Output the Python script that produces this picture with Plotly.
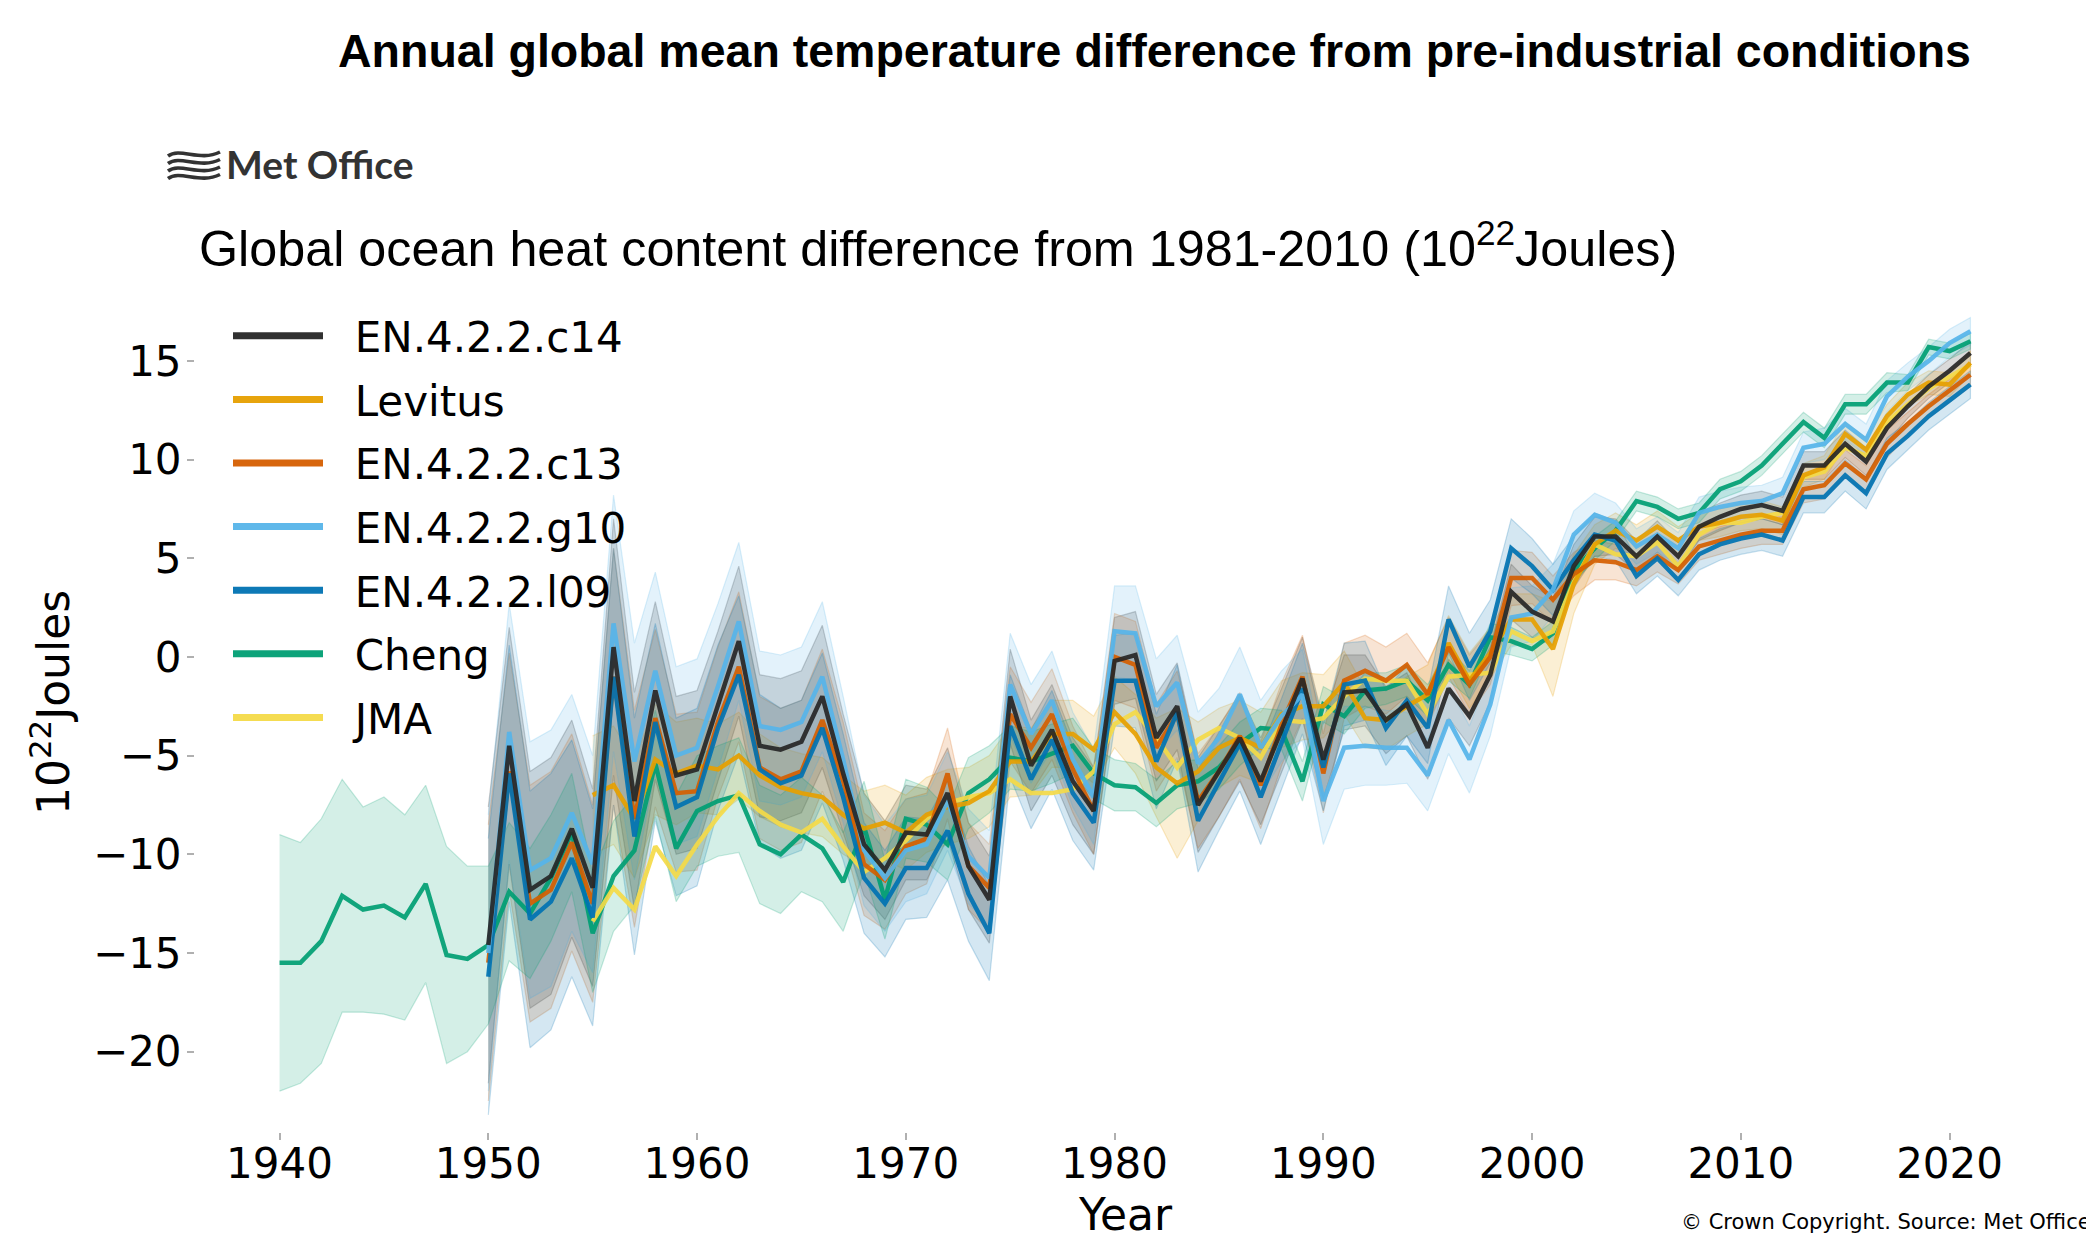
import plotly.graph_objects as go

# ---------------- data (10^22 J, difference from 1981-2010) ----------------
years_cheng = list(range(1940, 2022))
years_en = list(range(1950, 2022))
years_lev = list(range(1955, 2022))
years_jma = list(range(1955, 2022))

c14 = [-14.6, -4.5, -11.8, -11.1, -8.7, -11.7, 0.5, -7.3, -1.7, -6.0,
       -5.7, -2.5, 0.8, -4.5, -4.7, -4.3, -2.0, -5.9, -9.5, -10.8,
       -8.9, -9.0, -6.9, -10.6, -12.3, -2.0, -5.5, -3.7, -6.3, -7.8,
       -0.2, 0.1, -4.1, -2.5, -7.5, -5.8, -4.1, -6.3, -3.7, -1.1,
       -5.2, -1.8, -1.7, -3.2, -2.4, -4.6, -1.6, -3.0, -0.9, 3.3,
       2.3, 1.8, 4.6, 6.1, 6.1, 5.1, 6.1, 5.1, 6.6, 7.1,
       7.5, 7.7, 7.4, 9.7, 9.7, 10.8, 9.9, 11.6, 12.7, 13.7, 14.5, 15.4]

c13 = [-15.5, -5.8, -12.5, -11.8, -9.4, -12.5, -1.0, -8.2, -3.1, -6.9,
       -6.8, -3.3, -0.5, -5.6, -6.2, -5.8, -3.2, -6.3, -10.5, -11.3,
       -9.6, -9.2, -5.9, -10.6, -11.7, -2.9, -4.6, -2.9, -5.7, -7.8,
       0.0, -0.4, -4.6, -2.9, -7.3, -5.8, -4.0, -6.5, -3.4, -1.0,
       -5.9, -1.2, -0.7, -1.2, -0.4, -1.9, 0.5, -1.4, 0.0, 4.0,
       4.0, 2.9, 4.2, 4.9, 4.8, 4.4, 5.1, 4.4, 5.6, 5.9,
       6.2, 6.4, 6.4, 8.5, 8.7, 9.8, 9.0, 10.8, 11.8, 12.7, 13.5, 14.3]

g10 = [-15.0, -3.8, -10.8, -10.2, -7.9, -10.5, 1.7, -5.3, -0.7, -5.0,
       -4.6, -1.5, 1.8, -3.5, -3.7, -3.3, -1.0, -5.2, -9.8, -11.2,
       -9.8, -9.5, -7.3, -10.1, -11.2, -1.4, -3.9, -2.2, -5.2, -7.1,
       1.3, 1.2, -2.5, -1.3, -5.4, -4.1, -1.9, -4.6, -3.0, -1.9,
       -7.3, -4.6, -4.5, -4.6, -4.6, -6.0, -3.2, -5.2, -2.4, 2.0,
       2.2, 3.4, 6.2, 7.2, 6.8, 5.6, 6.2, 5.5, 7.3, 7.6,
       7.8, 7.9, 8.3, 10.6, 10.8, 11.8, 11.0, 13.2, 14.2, 15.0, 15.9, 16.5]

l09 = [-16.2, -5.9, -13.3, -12.4, -10.2, -13.2, -1.0, -9.1, -3.3, -7.6,
       -7.1, -3.6, -0.9, -5.7, -6.4, -6.0, -3.6, -7.1, -11.2, -12.5,
       -10.7, -10.7, -8.8, -12.0, -14.0, -3.5, -6.2, -4.2, -6.9, -8.4,
       -1.2, -1.2, -5.3, -2.8, -8.3, -6.3, -4.4, -7.1, -4.4, -1.6,
       -5.6, -1.4, -1.2, -3.6, -2.2, -3.6, 1.9, -0.5, 1.3, 5.5,
       4.6, 3.4, 4.9, 6.2, 5.9, 4.1, 5.0, 3.9, 5.2, 5.7,
       6.0, 6.2, 5.9, 8.1, 8.1, 9.2, 8.3, 10.3, 11.2, 12.2, 13.0, 13.8]

levitus = [-7.0, -6.5, -8.2, -5.2, -5.9,
           -5.5, -5.7, -5.0, -6.0, -6.6, -6.9, -7.1, -8.0, -8.7, -8.4,
           -8.9, -8.0, -7.6, -7.4, -6.8, -5.3, -5.3, -3.9, -3.9, -4.7,
           -2.8, -3.9, -5.6, -6.4, -5.8, -4.6, -4.1, -4.6, -2.9, -2.5,
           -2.5, -1.3, -3.1, -3.2, -2.5, -1.9, 0.7, -1.2, 0.2, 1.9,
           1.9, 0.4, 3.7, 5.7, 6.4, 5.9, 6.6, 5.9, 6.6, 6.8,
           7.1, 7.2, 6.9, 9.2, 9.6, 11.3, 10.5, 12.2, 13.3, 13.9, 13.8, 14.9]

cheng = [-15.5, -15.5, -14.4, -12.1, -12.8, -12.6, -13.2, -11.5, -15.1, -15.3,
         -14.6, -11.9, -13.0, -11.2, -8.9, -14.0, -11.1, -9.8, -5.4, -9.7,
         -7.8, -7.3, -7.0, -9.5, -10.0, -9.0, -9.7, -11.4, -8.6, -12.3,
         -8.2, -8.5, -9.5, -6.9, -6.2, -5.1, -5.3, -4.9, -4.5, -5.9,
         -6.5, -6.6, -7.4, -6.5, -6.3, -5.6, -4.4, -3.6, -3.7, -6.3,
         -2.4, -3.0, -1.7, -1.6, -1.2, -2.2, -0.4, -1.4, 1.0, 0.8,
         0.4, 1.2, 4.4, 5.5, 6.4, 7.9, 7.6, 7.0, 7.3, 8.5,
         8.9, 9.7, 10.8, 11.9, 11.1, 12.8, 12.8, 13.9, 13.9, 15.7, 15.5, 16.0]

jma = [-13.4, -11.7, -12.8, -9.6, -11.1,
       -9.5, -8.1, -6.9, -7.8, -8.5, -8.9, -8.2, -9.6, -10.9, -10.2,
       -9.3, -8.2, -7.4, -7.1, -6.9, -6.2, -6.9, -6.9, -6.7, -5.8,
       -3.4, -2.8, -4.1, -5.6, -4.2, -3.6, -4.1, -5.1, -3.2, -3.3,
       -3.1, -2.0, -1.1, -1.2, -1.2, -2.9, -1.0, -0.9, -0.8, 1.3,
       0.8, 1.3, 3.8, 5.7, 5.2, 5.1, 5.8, 4.6, 6.2, 6.8,
       6.8, 7.1, 7.3, 9.1, 9.4, 10.6, 10.2, 11.9, 12.8, 13.6, 14.2, 14.8]

# half-widths of the uncertainty bands
err_c14 = [7.0, 6.0, 6.0, 6.0, 5.5, 5.0, 6.5, 5.5, 4.5, 4.0,
           4.0, 3.8, 3.8, 3.6, 3.6, 3.6, 3.6, 3.0, 2.6, 2.5,
           2.4, 2.3, 2.3, 2.2, 2.2, 2.4, 2.3, 2.3, 2.2, 2.2,
           2.2, 2.2, 2.2, 2.2, 2.4, 2.3, 2.2, 2.2, 2.1, 2.1,
           2.0, 1.9, 1.8, 1.7, 1.6, 1.6, 1.5, 1.5, 1.4, 1.4,
           1.3, 1.2, 1.1, 1.0, 0.9, 0.8, 0.8, 0.7, 0.7, 0.7,
           0.7, 0.7, 0.7, 0.7, 0.7, 0.7, 0.7, 0.7, 0.6, 0.6, 0.6, 0.6]
err_g = [7.0, 6.5, 6.5, 6.5, 6.0, 5.5, 6.5, 6.0, 5.0, 4.5,
         4.5, 4.2, 4.0, 3.8, 3.8, 3.8, 3.8, 3.2, 2.8, 2.7,
         2.6, 2.5, 2.5, 2.4, 2.4, 2.6, 2.5, 2.5, 2.4, 2.4,
         2.3, 2.4, 2.4, 2.4, 2.6, 2.5, 2.4, 2.4, 2.3, 2.3,
         2.2, 2.1, 2.0, 1.9, 1.8, 1.8, 1.7, 1.7, 1.6, 1.5,
         1.4, 1.3, 1.2, 1.1, 1.0, 0.9, 0.9, 0.8, 0.8, 0.8,
         0.8, 0.8, 0.8, 0.8, 0.8, 0.8, 0.8, 0.8, 0.7, 0.7, 0.7, 0.7]
err_lev = [3.0, 3.0, 3.0, 2.8, 2.6,
           2.4, 2.3, 2.2, 2.1, 2.0, 2.0, 2.0, 2.0, 1.9, 1.9,
           1.9, 1.9, 1.9, 1.8, 1.8, 1.8, 1.7, 1.7, 1.7, 1.7,
           1.8, 2.0, 2.5, 3.8, 2.5, 2.0, 1.9, 1.8, 1.7, 1.7,
           1.6, 1.6, 1.5, 1.5, 1.5, 1.5, 1.4, 1.4, 1.3, 1.3,
           1.3, 2.4, 1.5, 1.0, 0.9, 0.8, 0.8, 0.7, 0.7, 0.7,
           0.7, 0.7, 0.7, 0.6, 0.6, 0.6, 0.6, 0.6, 0.6, 0.6, 0.6, 0.6]
err_cheng = [6.5, 6.1, 6.2, 5.9, 5.2, 5.5, 5.2, 5.0, 5.5, 4.7,
             4.0, 3.5, 3.3, 3.2, 3.0, 3.0, 2.8, 2.8, 2.7, 2.7,
             2.8, 2.8, 2.9, 3.0, 3.0, 2.9, 2.7, 2.5, 2.3, 2.0,
             2.0, 1.9, 1.8, 1.8, 1.7, 1.6, 1.5, 1.5, 1.4, 1.3,
             1.3, 1.2, 1.2, 1.2, 1.1, 1.1, 1.1, 1.0, 1.0, 1.0,
             0.9, 0.9, 0.9, 0.8, 0.8, 0.8, 0.8, 0.7, 0.7, 0.7,
             0.6, 0.6, 0.6, 0.6, 0.5, 0.5, 0.5, 0.5, 0.5, 0.5,
             0.5, 0.5, 0.5, 0.5, 0.5, 0.5, 0.5, 0.5, 0.4, 0.4, 0.4, 0.4]

x_ticks = [1940, 1950, 1960, 1970, 1980, 1990, 2000, 2010, 2020]
y_ticks = [-20, -15, -10, -5, 0, 5, 10, 15]

# ---------------- styling ----------------
COL = {
    "EN.4.2.2.c14": (38, 38, 38),
    "Levitus": (230, 159, 0),
    "EN.4.2.2.c13": (213, 94, 0),
    "EN.4.2.2.g10": (86, 180, 233),
    "EN.4.2.2.l09": (0, 114, 178),
    "Cheng": (0, 158, 115),
    "JMA": (244, 218, 72),
}


def rgba(c, a):
    return "rgba(%d,%d,%d,%.3f)" % (c[0], c[1], c[2], a)


series = [
    # name, years, values, errors
    ("EN.4.2.2.c14", years_en, c14, err_c14),
    ("Levitus", years_lev, levitus, err_lev),
    ("EN.4.2.2.c13", years_en, c13, err_c14),
    ("EN.4.2.2.g10", years_en, g10, err_g),
    ("EN.4.2.2.l09", years_en, l09, err_g),
    ("Cheng", years_cheng, cheng, err_cheng),
    ("JMA", years_jma, jma, None),
]

fig = go.Figure()

# bands
for name, yrs, vals, err in series:
    if err is None:
        continue
    up = [v + e for v, e in zip(vals, err)]
    lo = [v - e for v, e in zip(vals, err)]
    fig.add_trace(go.Scatter(
        x=yrs + yrs[::-1], y=up + lo[::-1], fill="toself",
        fillcolor=rgba(COL[name], 0.17),
        line=dict(color=rgba(COL[name], 0.22), width=1.2),
        mode="lines", showlegend=False, hoverinfo="skip"))

# lines (black drawn last)
draw_order = ["Cheng", "JMA", "Levitus", "EN.4.2.2.c13", "EN.4.2.2.l09",
              "EN.4.2.2.g10", "EN.4.2.2.c14"]
lookup = {s[0]: s for s in series}
for name in draw_order:
    _, yrs, vals, _ = lookup[name]
    fig.add_trace(go.Scatter(
        x=yrs, y=vals, mode="lines", name=name, showlegend=False,
        line=dict(color=rgba(COL[name], 0.92), width=4.5),
        legendgroup=name, hoverinfo="x+y+name"))

# legend entries (thicker keys, like the reference)
NB = "\u00a0\u00a0"
for i, (name, _, _, _) in enumerate(series):
    fig.add_trace(go.Scatter(
        x=[None], y=[None], mode="lines", name=NB + name,
        line=dict(color=rgba(COL[name], 0.95), width=7),
        legendgroup=name, legendrank=i + 1, showlegend=True))

# ---------------- layout ----------------
OFF = 8                      # page body margin of the html
W, H = 2094 - OFF, 1241 - OFF
L, R, T, B = 195, 2055, 278, 1132   # plot area in picture pixels


def px(x, y):
    return (x - L) / (R - L), (B - y) / (B - T)


axis_common = dict(showgrid=False, zeroline=False, showline=False,
                   ticks="outside", ticklen=7, tickwidth=1.5,
                   tickcolor="#b0b0b0",
                   tickfont=dict(family="DejaVu Sans", size=42, color="black"))

fig.update_layout(
    width=W, height=H,
    margin=dict(l=L - OFF, r=W - (R - OFF), t=T - OFF, b=H - (B - OFF),
                autoexpand=False),
    plot_bgcolor="white", paper_bgcolor="white",
    xaxis=dict(range=[1935.95, 2025.05], tickvals=x_ticks,
               ticktext=[str(v) for v in x_ticks], ticklabelstandoff=-12,
               **axis_common),
    yaxis=dict(range=[-24.07, 19.2], tickvals=y_ticks, ticklabelstandoff=-3,
               **axis_common),
    legend=dict(x=px(228, 0)[0], y=px(0, 302)[1], xanchor="left", yanchor="top",
                bgcolor="rgba(0,0,0,0)", borderwidth=0,
                font=dict(family="DejaVu Sans", size=42, color="black"),
                itemwidth=90, tracegroupgap=6, traceorder="grouped"),
    showlegend=True,
)

ann = []
# main title
x0, y0 = px(1154, 51)
ann.append(dict(x=x0, y=y0, xref="paper", yref="paper", showarrow=False,
                text="<b>Annual global mean temperature difference from pre-industrial conditions</b>",
                font=dict(family="Liberation Sans", size=46.5, color="black"),
                xanchor="center", yanchor="middle"))
# subtitle
x0, y0 = px(197, 245)
ann.append(dict(x=x0, y=y0, xref="paper", yref="paper", showarrow=False,
                text="Global ocean heat content difference from 1981-2010 (10<sup>22</sup>Joules)",
                font=dict(family="Liberation Sans", size=50.3, color="black"),
                xanchor="left", yanchor="middle"))
# Met Office wordmark
x0, y0 = px(224, 164)
ann.append(dict(x=x0, y=y0, xref="paper", yref="paper", showarrow=False,
                text="<b>Met Office</b>",
                font=dict(family="Lato", size=39, color="#333333"),
                xanchor="left", yanchor="middle"))
# y axis title
x0, y0 = px(50, 703)
ann.append(dict(x=x0, y=y0, xref="paper", yref="paper", showarrow=False,
                text="10<sup>22</sup>Joules", textangle=-90,
                font=dict(family="DejaVu Sans", size=44, color="black"),
                xanchor="center", yanchor="middle"))
# x axis title
x0, y0 = px(1125, 1214)
ann.append(dict(x=x0, y=y0, xref="paper", yref="paper", showarrow=False,
                text="Year",
                font=dict(family="DejaVu Sans", size=44, color="black"),
                xanchor="center", yanchor="middle"))
# copyright
x0, y0 = px(2093, 1222)
ann.append(dict(x=x0, y=y0, xref="paper", yref="paper", showarrow=False,
                text="© Crown Copyright. Source: Met Office",
                font=dict(family="DejaVu Sans", size=21, color="black"),
                xanchor="right", yanchor="middle"))
fig.update_layout(annotations=ann)

# Met Office wave emblem
shapes = []
for i in range(4):
    yb = 153 + i * 7.5
    pts = [(168, yb + 3), (180, yb - 6), (200, yb + 9), (220, yb - 1)]
    p = [px(a, b) for a, b in pts]
    path = "M %.5f,%.5f C %.5f,%.5f %.5f,%.5f %.5f,%.5f" % (
        p[0][0], p[0][1], p[1][0], p[1][1], p[2][0], p[2][1], p[3][0], p[3][1])
    shapes.append(dict(type="path", path=path, xref="paper", yref="paper",
                       line=dict(color="#333333", width=3.6)))
fig.update_layout(shapes=shapes)

fig.write_html("out.html")
